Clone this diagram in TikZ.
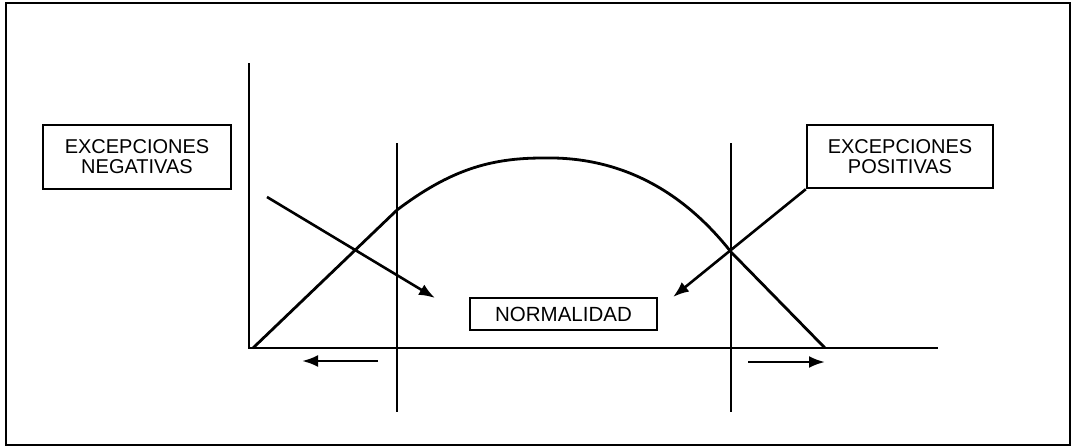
\documentclass[tikz,border=0pt]{standalone}
\usepackage{fontspec}
\setmainfont{Liberation Sans}
\usetikzlibrary{positioning,arrows.meta}

\begin{document}
\begin{tikzpicture}[
      x=1pt, y=-1pt,
      every node/.style={font=\fontsize{20}{20}\selectfont},
      line/.style={line width=2.8pt},
      label box/.style={draw, line width=2.4pt, inner sep=0pt, align=center},
      arrow/.style={line width=2.6pt, -{Latex[length=16pt, width=12pt]}},
    ]
    \useasboundingbox (0,0) rectangle (1076,447);

    % Frame
    \draw[line width=2.2pt] (6,3) rectangle (1070,445);

    % Axes
    \coordinate (origin) at (249,348);
    \coordinate (ytop) at (249,63);
    \coordinate (xend) at (938,348);
    \draw[line] (ytop) -- (origin) -- (xend);

    % Limits of normality
    \coordinate (lowtop) at (397,143);
    \coordinate (lowbot) at (397,412);
    \coordinate (hightop) at (731,143);
    \coordinate (highbot) at (731,412);
    \draw[line] (lowtop) -- (lowbot);
    \draw[line] (hightop) -- (highbot);

    % Curve
    \draw[line, line join=round] (253,348) -- (397,210)
      .. controls (450,170) and (490,158) .. (543,158)
      .. controls (630,156) and (690,200) .. (731,252) -- (825,348);

    % Labels
    \node[label box, minimum width=188pt, minimum height=64pt] (neg) at (137,157) {EXCEPCIONES\\NEGATIVAS};
    \node[label box, minimum width=186pt, minimum height=63pt] (pos) at (900,156.5) {EXCEPCIONES\\POSITIVAS};
    \node[label box, minimum width=187pt, minimum height=32pt, font=\fontsize{20.5}{22}\selectfont] (norm) at (563.5,314) {NORMALIDAD};

    % Arrows
    \coordinate (negstart) at (267,197);
    \coordinate (negtip) at (435,298);
    \coordinate (postip) at (673,297);
    \draw[arrow] (negstart) -- (negtip);
    \draw[arrow] (pos.south west) -- (postip);

    \coordinate (leftfrom) at (378,361);
    \coordinate (leftto) at (302,361);
    \coordinate (rightfrom) at (748,362);
    \coordinate (rightto) at (825,362);
    \draw[arrow] (leftfrom) -- (leftto);
    \draw[arrow] (rightfrom) -- (rightto);
  \end{tikzpicture}
\end{document}
